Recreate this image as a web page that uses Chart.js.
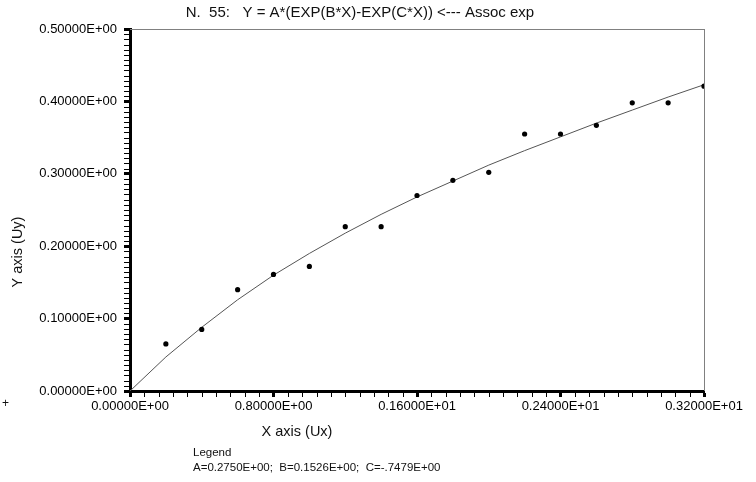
<!DOCTYPE html>
<html>
<head>
<meta charset="utf-8">
<script src="https://cdn.jsdelivr.net/npm/chart.js@4/dist/chart.umd.min.js"></script>
<style>
  html, body { margin: 0; padding: 0; background: #fff; }
  #wrap { width: 756px; height: 482px; }
</style>
</head>
<body>
<div id="wrap"><canvas id="fitChart" width="756" height="482"></canvas></div>
<script>
// measured points
const pointX = [0.2, 0.4, 0.6, 0.8, 1.0, 1.2, 1.4, 1.6, 1.8, 2.0, 2.2, 2.4, 2.6, 2.8, 3.0, 3.2];
const pointY = [0.065, 0.085, 0.140, 0.161, 0.172, 0.227, 0.227, 0.270, 0.291, 0.302, 0.355, 0.355, 0.367, 0.398, 0.398, 0.421];

// fitted curve
const curveX = [0, 0.2, 0.4, 0.6, 0.8, 1.0, 1.2, 1.4, 1.6, 1.8, 2.0, 2.2, 2.4, 2.6, 2.8, 3.0, 3.2];
const curveY = [0, 0.047, 0.088, 0.126, 0.160, 0.190, 0.218, 0.244, 0.268, 0.290, 0.312, 0.332, 0.351, 0.370, 0.388, 0.406, 0.423];

// tick labels
const xTickLabels = ["0.00000E+00", "0.80000E+00", "0.16000E+01", "0.24000E+01", "0.32000E+01"];
const yTickLabels = ["0.00000E+00", "0.10000E+00", "0.20000E+00", "0.30000E+00", "0.40000E+00", "0.50000E+00"];

const titleText = "N.  55:   Y = A*(EXP(B*X)-EXP(C*X)) <--- Assoc exp";
const legendLines = ["Legend", "A=0.2750E+00;  B=0.1526E+00;  C=-.7479E+00"];

const FONT = "'Liberation Sans', Arial, sans-serif";

// extra text, frame and minor ticks
const decorPlugin = {
  id: "decor",
  afterDraw(chart) {
    const ctx = chart.ctx;
    const a = chart.chartArea;
    const xs = chart.scales.x;
    const ys = chart.scales.y;
    ctx.save();

    // thin grey top and right frame
    ctx.fillStyle = "#808080";
    ctx.fillRect(a.left, Math.round(a.top), Math.round(a.right) - a.left + 1, 1);
    ctx.fillRect(Math.round(a.right), Math.round(a.top), 1, a.bottom - a.top);

    // minor ticks
    ctx.fillStyle = "#000";
    for (let k = 1; k < 40; k++) {
      if (k % 10 === 0) continue;
      const px = Math.round(xs.getPixelForValue(k * 0.08));
      ctx.fillRect(px, Math.round(a.bottom), 1, 6);
    }
    for (let k = 1; k < 70; k++) {
      if (k % 14 === 0) continue;
      const py = Math.round(ys.getPixelForValue(k * 0.1 / 14));
      ctx.fillRect(Math.round(a.left) - 6, py, 6, 1);
    }

    ctx.fillStyle = "#111";
    ctx.textBaseline = "middle";

    ctx.textAlign = "center";
    ctx.font = "15px " + FONT;
    ctx.fillText(titleText, 360, 13);
    ctx.font = "14.5px " + FONT;
    ctx.fillText("X axis (Ux)", 297, 432);

    ctx.save();
    ctx.translate(18, 252);
    ctx.rotate(-Math.PI / 2);
    ctx.fillText("Y axis (Uy)", 0, 0);
    ctx.restore();

    ctx.textAlign = "left";
    ctx.font = "12px " + FONT;
    ctx.fillText("+", 2, 404);
    ctx.font = "11.5px " + FONT;
    ctx.fillText(legendLines[0], 193, 453);
    ctx.fillText(legendLines[1], 193, 468);

    ctx.restore();
  }
};

const ctx = document.getElementById("fitChart").getContext("2d");
new Chart(ctx, {
  type: "scatter",
  data: {
    datasets: [
      {
        label: "Fit",
        data: curveX.map((x, i) => ({ x: x, y: curveY[i] })),
        showLine: true,
        borderColor: "#555",
        borderWidth: 1,
        pointRadius: 0,
        tension: 0,
        order: 2,
      },
      {
        label: "Data",
        data: pointX.map((x, i) => ({ x: x, y: pointY[i] })),
        pointRadius: 2.6,
        pointBackgroundColor: "#000",
        pointBorderColor: "#000",
        pointBorderWidth: 0,
        order: 1,
      },
    ],
  },
  options: {
    responsive: false,
    animation: false,
    layout: { padding: { left: 0, top: 29, right: 52, bottom: 0 } },
    plugins: {
      legend: { display: false },
      tooltip: { enabled: false },
      title: { display: false },
    },
    scales: {
      x: {
        type: "linear",
        min: 0,
        max: 3.2,
        afterFit: (s) => { s.height = 91; },
        border: { display: true, color: "#000", width: 3 },
        grid: {
          drawOnChartArea: false,
          drawTicks: true,
          tickLength: 6,
          tickWidth: 3,
          tickColor: "#000",
        },
        ticks: {
          stepSize: 0.8,
          padding: 2,
          maxRotation: 0,
          color: "#000",
          font: { family: FONT, size: 13 },
          callback: (v, i) => xTickLabels[i],
        },
      },
      y: {
        type: "linear",
        min: 0,
        max: 0.5,
        afterFit: (s) => { s.width = 130; },
        border: { display: true, color: "#000", width: 3 },
        grid: {
          drawOnChartArea: false,
          drawTicks: true,
          tickLength: 6,
          tickWidth: 3,
          tickColor: "#000",
        },
        ticks: {
          stepSize: 0.1,
          padding: 7,
          color: "#000",
          font: { family: FONT, size: 13 },
          callback: (v, i) => yTickLabels[i],
        },
      },
    },
  },
  plugins: [decorPlugin],
});
</script>
</body>
</html>
